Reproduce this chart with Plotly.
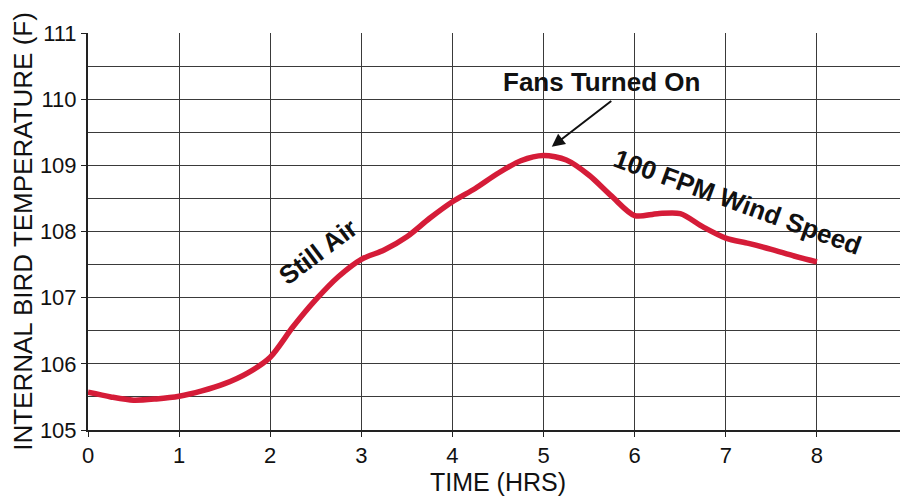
import plotly.graph_objects as go

time_hrs = [0, 0.25, 0.5, 0.75, 1, 1.25, 1.5, 1.75, 2, 2.25, 2.5, 2.75, 3, 3.25, 3.5,
            3.75, 4, 4.25, 4.5, 4.75, 5, 5.25, 5.5, 5.75, 6, 6.25, 6.5, 6.75, 7,
            7.25, 7.5, 7.75, 8]
temp_f = [105.57, 105.5, 105.45, 105.47, 105.51, 105.59, 105.7, 105.86, 106.1, 106.56,
          106.97, 107.32, 107.58, 107.72, 107.92, 108.2, 108.45, 108.65, 108.88, 109.07,
          109.15, 109.08, 108.85, 108.53, 108.24, 108.27, 108.27, 108.07, 107.9,
          107.82, 107.73, 107.63, 107.54]
x_ticks = [0, 1, 2, 3, 4, 5, 6, 7, 8, 9]
y_ticks = [105, 106, 107, 108, 109, 110, 111]

fig = go.Figure()
fig.add_trace(go.Scatter(x=time_hrs, y=temp_f, mode="lines",
                         line=dict(color="#d51c38", width=5.5, shape="spline", smoothing=0.8),
                         showlegend=False))

font_family = "Liberation Sans, Arial, sans-serif"
fig.update_layout(
    width=900, height=490,
    margin=dict(l=80, r=0, t=25, b=68, autoexpand=False),
    paper_bgcolor="white", plot_bgcolor="white",
    font=dict(family=font_family, color="#111"),
    xaxis=dict(range=[0, 9], tickvals=x_ticks, ticktext=[str(v) for v in x_ticks],
               showgrid=True, gridcolor="#3a3a3a", gridwidth=1,
               showline=True, linecolor="#222", linewidth=2,
               ticks="outside", ticklen=5, tickcolor="#222",
               tickfont=dict(size=22), zeroline=False, ticklabeloverflow="allow",
               automargin=False,
               title=dict(text="TIME (HRS)", font=dict(size=25), standoff=6)),
    yaxis=dict(range=[105, 111], tickvals=y_ticks, ticktext=[str(v) for v in y_ticks],
               showgrid=True, gridcolor="#3a3a3a", gridwidth=1,
               showline=True, linecolor="#222", linewidth=2,
               ticks="outside", ticklen=5, tickcolor="#222",
               tickfont=dict(size=22), zeroline=False, automargin=False,
               minor=dict(dtick=0.5, showgrid=True, gridcolor="#3a3a3a", gridwidth=1),
               title=dict(text="INTERNAL BIRD TEMPERATURE (F)", font=dict(size=26), standoff=4)),
)

fig.add_annotation(x=5.64, y=110.26, xref="x", yref="y", text="<b>Fans Turned On</b>",
                   showarrow=False, font=dict(size=26, color="#111"))
fig.add_annotation(x=5.09, y=109.28, xref="x", yref="y", text="", showarrow=True,
                   ax=61, ay=-47, arrowhead=2, arrowsize=1.3, arrowwidth=2, arrowcolor="#111")
fig.add_annotation(x=2.52, y=107.69, xref="x", yref="y", text="<b>Still Air</b>",
                   showarrow=False, textangle=-37, font=dict(size=26, color="#111"))
fig.add_annotation(x=7.13, y=108.45, xref="x", yref="y", text="<b>100 FPM Wind Speed</b>",
                   showarrow=False, textangle=20, font=dict(size=26, color="#111"))

fig.write_html("out.html")
